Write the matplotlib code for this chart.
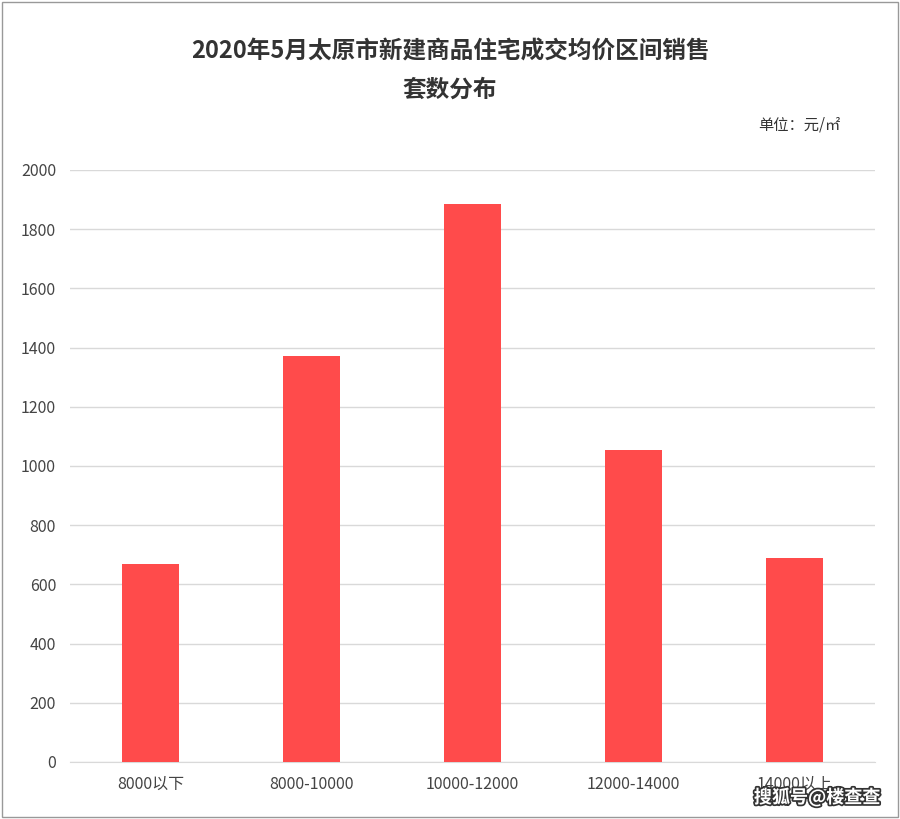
import matplotlib.pyplot as plt
from matplotlib.patches import Rectangle

plt.rcParams['font.family'] = ['Noto Sans CJK SC', 'DejaVu Sans']

categories = ["8000以下", "8000-10000", "10000-12000", "12000-14000", "14000以上"]
values = [670, 1370, 1885, 1055, 690]
yticks = [0, 200, 400, 600, 800, 1000, 1200, 1400, 1600, 1800, 2000]

fig = plt.figure(figsize=(9, 8.19), dpi=100)
ax = fig.add_axes([70 / 900, 1 - 762 / 819, 805 / 900, 592 / 819])

ax.bar(range(len(categories)), values, width=0.36, color="#FF4B4B", zorder=3)
ax.set_xlim(-0.5, len(categories) - 0.5)
ax.set_ylim(0, 2000)
ax.set_yticks(yticks)
ax.set_xticks(range(len(categories)))
ax.set_xticklabels(categories, fontsize=11.5, color="#444444")
ax.tick_params(axis="y", labelsize=11.5, labelcolor="#444444", length=0, pad=10)
ax.tick_params(axis="x", length=0, pad=10)
ax.grid(axis="y", color="#d9d9d9", linewidth=1, zorder=0)
for s in ["top", "right", "left"]:
    ax.spines[s].set_visible(False)
ax.spines["bottom"].set_color("#d9d9d9")

fig.text(0.5, 1 - 52 / 819, "2020年5月太原市新建商品住宅成交均价区间销售",
         ha="center", va="center", fontsize=17, fontweight="bold", color="#333333")
fig.text(0.5, 1 - 90 / 819, "套数分布",
         ha="center", va="center", fontsize=17, fontweight="bold", color="#333333")
fig.text(840 / 900, 1 - 125 / 819, "单位：元/㎡",
         ha="right", va="center", fontsize=11, color="#333333")
fig.text(880 / 900, 1 - 798 / 819, "搜狐号@楼查查",
         ha="right", va="center", fontsize=13, fontweight="bold", color="white",
         path_effects=[__import__("matplotlib.patheffects", fromlist=["x"]).withStroke(linewidth=2.5, foreground="#333333")])

fig.patches.append(Rectangle((0.002, 0.002), 0.996, 0.996, transform=fig.transFigure,
                             fill=False, edgecolor="#999999", linewidth=1))

fig.savefig("out.png", dpi=100)
